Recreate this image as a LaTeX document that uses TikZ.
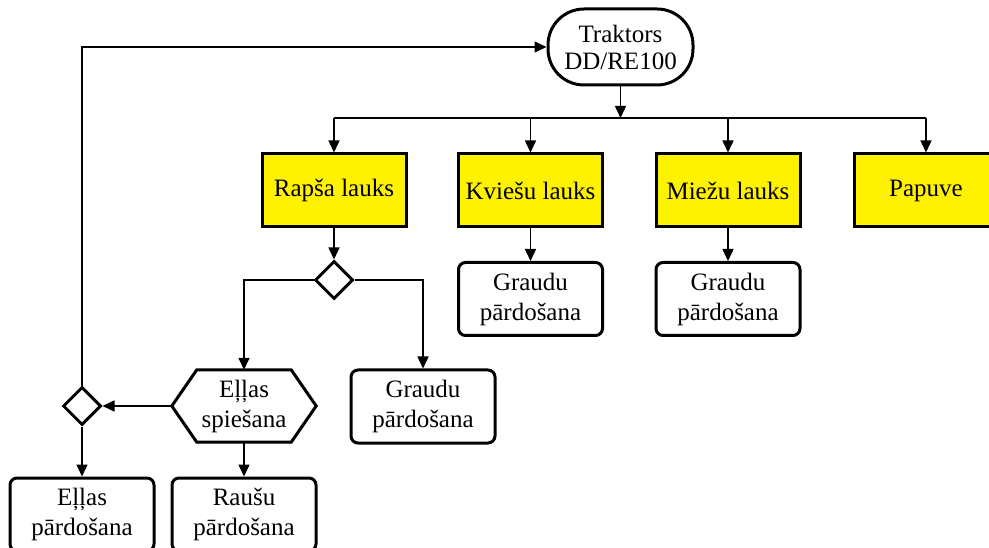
\documentclass[tikz,border=0pt]{standalone}
\usepackage{fontspec}
\setmainfont{Liberation Serif}
\newfontfamily\boxfont{Liberation Serif}
\usetikzlibrary{arrows.meta,shapes.geometric,calc}
\definecolor{fieldyellow}{RGB}{255,242,0}

\begin{document}
\begin{tikzpicture}[x=1pt,y=-1pt,
  font=\boxfont\fontsize{25}{30}\selectfont,
  box/.style={draw,line width=3pt,minimum width=144pt,minimum height=73pt,
              align=center,inner sep=0pt},
  field/.style={box,fill=fieldyellow},
  sale/.style={box,rounded corners=7pt},
  start/.style={box,minimum width=145pt,minimum height=76pt,rounded corners=36pt,
                font=\boxfont\fontsize{25}{27}\selectfont},
  choice/.style={diamond,draw,line width=3pt,minimum size=38pt,inner sep=0pt,fill=white},
  wire/.style={line width=1.5pt},
  conn/.style={wire,-{Triangle[length=12pt,width=11pt]}}
]
\useasboundingbox (0,0) rectangle (989,548);

% start node
\node[start] (tr) at (620.5,47) {Traktors\\DD/RE100};

% fields
\node[field] (rapsa)  at (334,190.5) {Rapša lauks};
\node[field] (kviesu) at (530.5,190.5) {Kviešu lauks};
\node[field] (miezu)  at (728,190.5) {Miežu lauks};
\node[field] (papuve) at (926,190.5) {Papuve};

% grain sales under the cereal fields
\node[sale] (gk) at (530.5,299) {Graudu\\pārdošana};
\node[sale] (gm) at (728,299) {Graudu\\pārdošana};

% rapeseed branch
\node[choice] (d1) at (334,280) {};
\node[sale] (gr) at (423,406.5) {Graudu\\pārdošana};
\node[minimum width=144pt,minimum height=72pt,align=center,inner sep=0pt] (hex) at (244,406) {Eļļas\\spiešana};
\draw[line width=3pt,line join=miter]
  (hex.west) -- ($(hex.north west)+(25,0)$) -- ($(hex.north east)+(-25,0)$)
  -- (hex.east) -- ($(hex.south east)+(-25,0)$) -- ($(hex.south west)+(25,0)$) -- cycle;
\node[choice] (d2) at (82,406) {};
\node[sale] (ep) at (82,514.5) {Eļļas\\pārdošana};
\node[sale] (rp) at (244,514.5) {Raušu\\pārdošana};

% distribution bus
\coordinate (bus) at (620.5,118);
\draw[conn] (tr.south) -- (bus);
\draw[wire] (rapsa.north |- bus) -- (papuve.north |- bus);
\foreach \f in {rapsa,kviesu,miezu,papuve}
  \draw[conn] (\f.north |- bus) -- (\f.north);

% connectors
\draw[conn] (kviesu.south) -- (gk.north);
\draw[conn] (miezu.south) -- (gm.north);
\draw[conn] (rapsa.south) -- (d1.north);
\draw[conn] (d1.west) -| (hex.north);
\draw[conn] (d1.east) -| (gr.north);
\draw[conn] (hex.west) -- (d2.east);
\draw[conn] (hex.south) -- (rp.north);
\draw[conn] (d2.south) -- (ep.north);
\draw[conn] (d2.north) |- (tr.west);
\end{tikzpicture}
\end{document}
